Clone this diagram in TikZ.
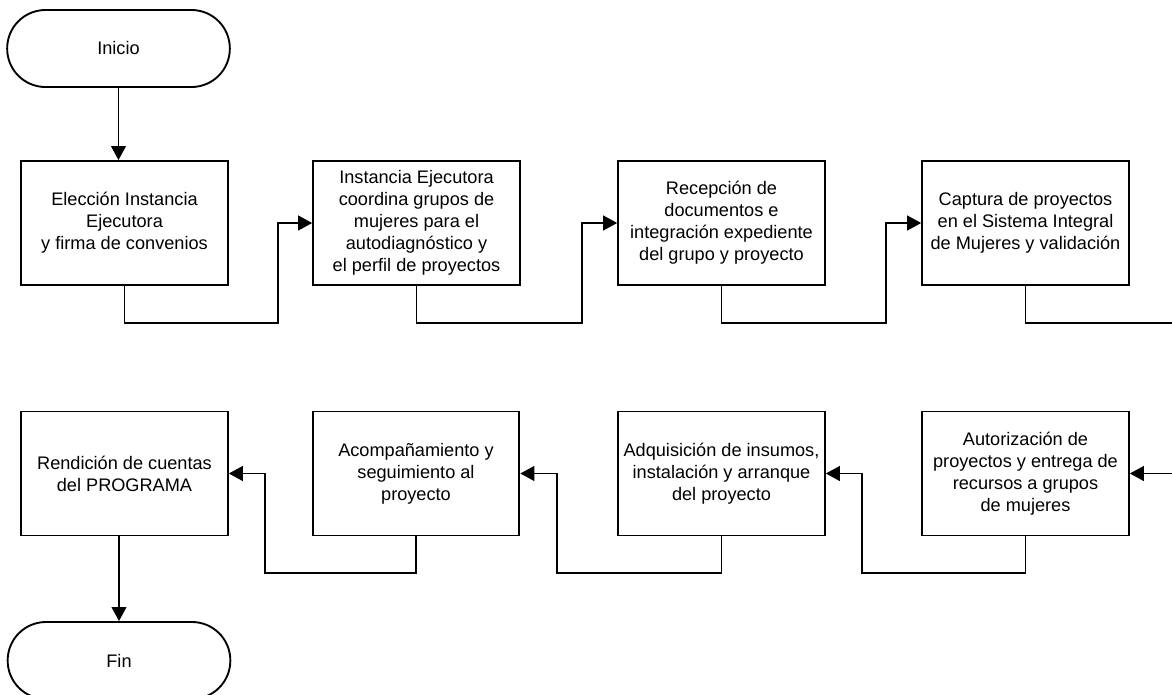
\documentclass[tikz,border=0pt]{standalone}
\usepackage{fontspec}
\setmainfont{Liberation Sans}
\usetikzlibrary{arrows.meta}

\begin{document}
\begin{tikzpicture}[x=0.03cm, y=-0.03cm,
    stage/.style={draw, line width=1.6pt, align=center, inner sep=0pt,
        minimum width=6.2cm, minimum height=3.72cm, font=\fontsize{15.5}{18.8}\selectfont},
    terminal/.style={draw, line width=1.6pt, rounded corners=1.15cm, inner sep=0pt,
        minimum width=6.68cm, minimum height=2.31cm, font=\fontsize{15.5}{18.8}\selectfont},
    flow/.style={line width=1.6pt, -{Triangle[length=0.42cm, width=0.44cm]}}]
    \clip (0,0) rectangle (1172,694);

    % terminals
    \node[terminal] (inicio) at (118.5,48.5) {Inicio};
    \node[terminal] (fin) at (119,660.5) {Fin};

    % first row
    \node[stage] (eleccion) at (124.5,223) {Elección Instancia\\Ejecutora\\y firma de convenios};
    \node[stage] (coordina) at (416.5,223) {Instancia Ejecutora\\coordina grupos de\\mujeres para el\\autodiagnóstico y\\el perfil de proyectos};
    \node[stage] (recepcion) at (721.5,223) {Recepción de\\documentos e\\integración expediente\\del grupo y proyecto};
    \node[stage] (captura) at (1025.5,223) {Captura de proyectos\\en el Sistema Integral\\de Mujeres y validación};

    % second row
    \node[stage] (autoriza) at (1025.5,473.5) {Autorización de\\proyectos y entrega de\\recursos a grupos\\de mujeres};
    \node[stage] (adquiere) at (721.5,473.5) {Adquisición de insumos,\\instalación y arranque\\del proyecto};
    \node[stage] (acompana) at (416,473.5) {Acompañamiento y\\seguimiento al\\proyecto};
    \node[stage] (rendicion) at (124.5,473.5) {Rendición de cuentas\\del PROGRAMA};

    \draw[flow] (inicio.south) -- (inicio.south |- eleccion.north);
    \draw[flow] (eleccion.south) |- (278,323) |- (coordina.west);
    \draw[flow] (coordina.south) |- (582,323) |- (recepcion.west);
    \draw[flow] (recepcion.south) |- (886,323) |- (captura.west);
    \draw[flow] (captura.south) |- (1200,323) |- (autoriza.east);
    \draw[flow] (autoriza.south) |- (862,573) |- (adquiere.east);
    \draw[flow] (adquiere.south) |- (557,573) |- (acompana.east);
    \draw[flow] (acompana.south) |- (265,573) |- (rendicion.east);
    \draw[flow] (fin.north |- rendicion.south) -- (fin.north);
\end{tikzpicture}
\end{document}
